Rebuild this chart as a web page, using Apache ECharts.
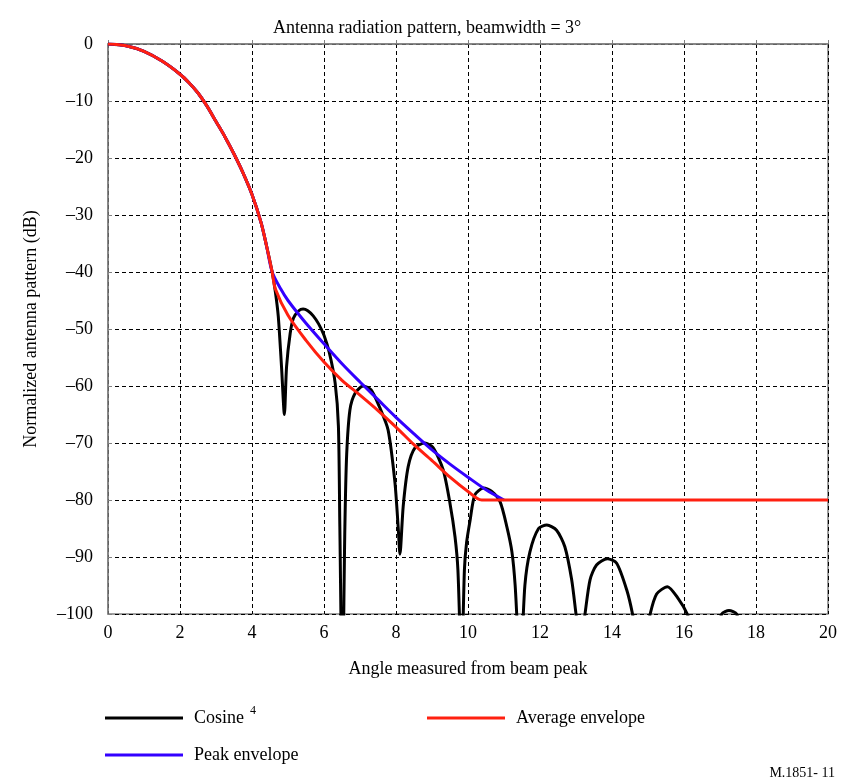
<!doctype html>
<html>
<head>
<meta charset="UTF-8">
<title>Antenna radiation pattern</title>
<script src="https://cdn.jsdelivr.net/npm/echarts@6/dist/echarts.min.js"></script>
<style>
  html, body { margin: 0; padding: 0; background: #fff; }
  #chart { width: 843px; height: 784px; }
</style>
</head>
<body>
<div id="chart"></div>
<script>
// main lobe, shared by all three curves
var mainAngles = [0, 0.5, 1, 1.5, 2, 2.25, 2.5, 2.75, 3, 3.25, 3.5, 3.75, 4, 4.25, 4.4, 4.56];
var mainValues = [0, -0.3, -1.3, -3.0, -5.3, -6.8, -8.6, -10.9, -13.6, -16.3, -19.3, -22.6, -26.4, -31.3, -35.3, -40];

// cosine^4 side lobes (values under -100 are clipped by the axis)
var lobeAngles = [4.65, 4.73, 4.82, 4.9, 4.96, 5.06, 5.15, 5.3, 5.42, 5.55, 5.7, 5.85, 6.0, 6.15, 6.31, 6.4, 6.44, 6.51,
  6.58, 6.63, 6.72, 6.86, 7.09, 7.31, 7.55, 7.78, 7.97, 8.06, 8.11, 8.2, 8.34, 8.53, 8.8, 9.03, 9.31, 9.5,
  9.64, 9.72, 9.82, 9.9, 9.96, 10.06, 10.19, 10.43, 10.66, 10.89, 11.08, 11.22, 11.31, 11.45, 11.58, 11.72,
  11.96, 12.19, 12.46, 12.69, 12.88, 13.0, 13.12, 13.25, 13.39, 13.57, 13.87, 14.13, 14.41, 14.57, 14.8,
  15.06, 15.24, 15.54, 15.84, 16.09, 16.6, 17.05, 17.25, 17.46, 17.6];
var lobeValues = [-43.5, -47.8, -56.6, -65, -56.6, -50.8, -48.1, -46.8, -46.5, -46.8, -47.7, -49.1, -51.1, -54.2, -59.5, -67, -84.7, -115,
  -84.7, -72, -64.2, -61.3, -60, -60.7, -63.8, -67.7, -76.9, -84.7, -89.5, -81.1, -74.1, -70.8, -70.0, -70.8, -74.7, -80.6,
  -86.5, -92.3, -110, -92.3, -87.5, -83.5, -79.1, -77.9, -78.5, -80.3, -84.7, -89.1, -95, -110, -95, -89.1,
  -85, -84.4, -85.3, -88.2, -94, -100, -106, -100, -94, -91.4, -90.3, -91.1, -95.8, -100, -108,
  -100, -96.5, -95.2, -97.3, -100, -108, -100, -99.4, -100, -104];

// peak envelope beyond the main lobe
var peakAngles = [4.8, 5.0, 5.5, 6.0, 6.5, 7.0, 7.5, 8.0, 8.5, 9.0, 9.5, 10.0, 10.5, 11.0];
var peakValues = [-43, -45, -49, -52.6, -56.1, -59.3, -62.4, -65.5, -68.4, -71.2, -73.7, -76.0, -78.2, -80];

// average envelope beyond the main lobe
var avgAngles = [4.65, 5.0, 5.5, 6.0, 6.5, 7.0, 7.5, 8.0, 8.5, 9.0, 9.5, 10.0, 10.38, 20];
var avgValues = [-43, -47.6, -52.0, -55.8, -59.0, -61.6, -64.3, -67.2, -70.3, -73.1, -76.0, -78.5, -80, -80];

function pairs(xs, ys) {
  var out = [];
  for (var i = 0; i < xs.length; i++) out.push([xs[i], ys[i]]);
  return out;
}

var serif = 'Liberation Serif';
var chart = echarts.init(document.getElementById('chart'));

var legendText = {
  fontFamily: serif, fontSize: 18, color: '#000', padding: [0, 0, 0, 6],
  rich: {
    n: { fontFamily: serif, fontSize: 18, color: '#000' },
    s: { fontFamily: serif, fontSize: 12, color: '#000', verticalAlign: 'top', padding: [0, 0, 14, 6] }
  }
};

chart.setOption({
  animation: false,
  title: {
    text: 'Antenna radiation pattern, beamwidth = 3°',
    left: 268, top: 14,
    textStyle: { fontFamily: serif, fontSize: 18, fontWeight: 'normal', color: '#000' }
  },
  grid: { left: 108, right: 15, top: 44, bottom: 170, show: true, borderColor: '#808080', borderWidth: 1.5 },
  legend: [
    { data: ['Cosine'], left: 100, top: 700, itemWidth: 78, itemHeight: 3, icon: 'rect',
      textStyle: legendText, formatter: function () { return '{n|Cosine}{s|4}'; } },
    { data: ['Average envelope'], left: 422, top: 704, itemWidth: 78, itemHeight: 3, icon: 'rect',
      textStyle: legendText },
    { data: ['Peak envelope'], left: 100, top: 741, itemWidth: 78, itemHeight: 3, icon: 'rect',
      textStyle: legendText }
  ],
  xAxis: {
    type: 'value', min: 0, max: 20, interval: 2,
    name: 'Angle measured from beam peak', nameLocation: 'middle', nameGap: 46,
    nameTextStyle: { fontFamily: serif, fontSize: 18, color: '#000' },
    axisLine: { lineStyle: { color: '#808080', width: 1.5 } },
    axisTick: { inside: true, length: 4, lineStyle: { color: '#808080' } },
    axisLabel: { fontFamily: serif, fontSize: 18, color: '#000', margin: 10 },
    splitLine: { show: true, lineStyle: { color: '#000', type: [4, 3], width: 1 } }
  },
  yAxis: {
    type: 'value', min: -100, max: 0, interval: 10,
    name: 'Normalized antenna pattern (dB)', nameLocation: 'middle', nameGap: 68,
    nameTextStyle: { fontFamily: serif, fontSize: 18, color: '#000' },
    axisLine: { lineStyle: { color: '#808080', width: 1.5 } },
    axisTick: { inside: true, length: 4, lineStyle: { color: '#808080' } },
    axisLabel: { fontFamily: serif, fontSize: 18, color: '#000', margin: 15,
      formatter: function (v) { return String(v).replace('-', '–'); } },
    splitLine: { show: true, lineStyle: { color: '#000', type: [4, 3], width: 1 } }
  },
  series: [
    { name: 'Cosine', type: 'line', showSymbol: false, smooth: 0.25, clip: true,
      lineStyle: { color: '#000', width: 3 }, itemStyle: { color: '#000' },
      data: pairs(mainAngles.concat(lobeAngles), mainValues.concat(lobeValues)) },
    { name: 'Peak envelope', type: 'line', showSymbol: false, smooth: 0.3, clip: true,
      lineStyle: { color: '#3300ff', width: 3 }, itemStyle: { color: '#3300ff' },
      data: pairs(mainAngles.concat(peakAngles), mainValues.concat(peakValues)) },
    { name: 'Average envelope', type: 'line', showSymbol: false, smooth: 0.3, clip: true,
      lineStyle: { color: '#ff2010', width: 3 }, itemStyle: { color: '#ff2010' },
      data: pairs(mainAngles.concat(avgAngles), mainValues.concat(avgValues)) }
  ],
  graphic: [
    { type: 'text', right: 8, bottom: 4,
      style: { text: 'M.1851- 11', fontFamily: serif, fontSize: 14, fill: '#000' } }
  ]
});
</script>
</body>
</html>
